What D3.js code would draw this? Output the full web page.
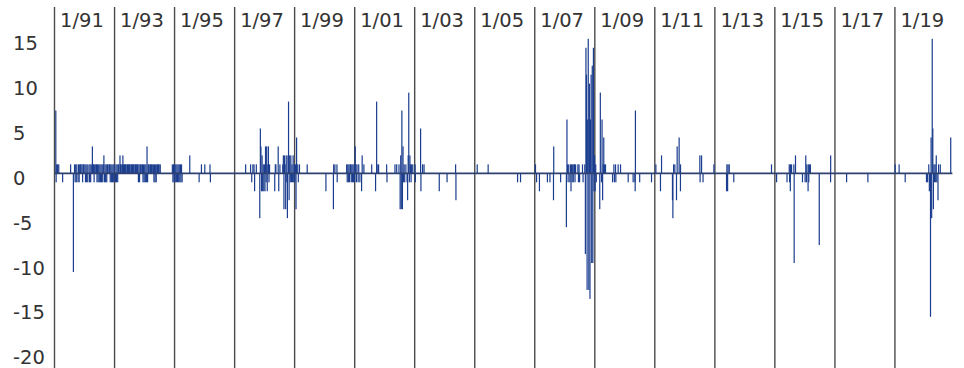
<!DOCTYPE html>
<html lang="en">
<head>
<meta charset="utf-8">
<title>Daily moves, 1991-2020</title>
<script src="https://cdn.jsdelivr.net/npm/d3@7"></script>
<style>
  body { margin: 0; background: #fff; }
  svg { display: block; font-family: "DejaVu Sans", Verdana, sans-serif; }
</style>
</head>
<body>
<svg id="chart" width="964" height="368"></svg>
<script>
// x axis labels, one every two years
const tickLabels = ["1/91", "1/93", "1/95", "1/97", "1/99", "1/01", "1/03",
  "1/05", "1/07", "1/09", "1/11", "1/13", "1/15", "1/17", "1/19"]
const yTicks = [15, 10, 5, 0, -5, -10, -15, -20]
const seriesEnd = "2020-11-30"

// isolated days
const spikeDates = [
  "1991-01-17", "1991-01-21", "1991-01-28", "1991-02-08", "1991-02-22", "1991-04-10", "1991-07-16", "1991-08-19",
  "1995-07-05", "1995-10-27", "1995-11-24", "1996-01-04", "1996-03-07", "1996-03-12", "1997-05-15",
  "1999-06-03", "2000-01-17", "2000-04-17", "2000-04-20", "2000-05-05", "2000-05-30", "2000-06-02",
  "2001-07-27", "2001-09-12", "2001-09-25", "2001-10-01", "2001-10-19", "2002-01-25", "2002-01-29", "2002-05-06", "2002-05-27",
  "2003-01-06", "2003-01-10", "2003-03-14", "2003-03-18", "2003-04-07", "2003-04-25", "2003-10-27", "2004-01-30",
  "2004-05-13", "2004-05-17", "2005-01-31", "2005-06-13", "2006-06-06", "2006-07-12",
  "2007-01-10", "2007-01-23", "2007-02-27", "2007-06-04", "2007-07-05", "2007-08-17", "2007-08-20", "2007-11-12",
  "2009-08-05", "2009-08-21", "2009-08-27", "2009-09-10", "2009-09-14", "2009-10-12", "2009-11-10",
  "2010-02-11", "2010-04-12", "2010-05-04", "2010-05-07", "2010-05-10", "2010-07-01", "2010-11-22",
  "2011-01-14", "2011-03-11", "2011-03-24", "2011-08-04", "2011-08-09", "2011-08-18", "2011-09-02", "2011-09-22",
  "2011-09-30", "2011-10-24", "2011-11-09", "2011-11-10", "2012-07-02", "2012-07-05", "2012-07-23", "2012-08-10", "2012-12-20",
  "2013-05-23", "2013-05-27", "2013-06-05", "2013-06-10", "2013-06-25", "2013-08-19", "2014-11-21",
  "2015-01-22", "2015-05-29", "2015-06-25", "2015-06-29", "2015-07-08", "2015-07-09", "2015-07-23", "2015-08-20",
  "2015-08-24", "2015-09-09", "2015-12-03", "2016-01-04", "2016-01-12", "2016-01-20", "2016-01-25", "2016-02-09",
  "2016-02-12", "2016-02-18", "2016-02-28", "2016-03-08", "2016-06-24", "2016-11-09", "2016-11-10",
  "2017-05-23", "2018-02-06", "2019-01-04", "2019-02-21", "2019-05-06", "2020-11-10"
]
const spikeValues = [
  7, -1, 1, 1, 1, -1, 1, -11,
  2, -1, 1, 1, 1, -1, 1,
  1, -2, -4, 1, 1, 1, -1,
  1, -2, 8, 1, 1, 1, -1, 1, 1,
  1, -1, 5, -2, 1, 1, -2, -1,
  1, -3, 1, 1, -1, -1,
  1, -1, -2, -1, -1, -3, 3, -1,
  -1, 1, -1, 1, -1, 1, 1,
  -1, -1, -1, -2, 7, -1, -1,
  1, -2, 2, -3, -5, 1, 1, -3,
  3, 4, -2, 1, 2, -1, 2, -1, 1,
  -2, 1, -2, 1, 1, -1, 1,
  -1, -1, 1, -1, -2, 1, 1, 1,
  -10, 2, -1, -1, 2, -1, 1, -2,
  1, -1, 1, 1, -8, -1, 2,
  -1, -1, 1, 1, -1, 4
]

// busy stretches: one value per week from the start date
const runStarts = ["1991-09-02", "1994-12-05", "1997-07-07", "2000-09-25", "2002-06-24", "2008-01-07", "2020-01-20"]
const runWeeks = [
  [1,-1,1,-1,1,0,-1,1,-1,1, 1,1,0,1,-1,1,1,0, 1,-1,1,-1,1,-1,0,1,-1,1,-1,1, 0,3, 1,1,-1,1,0,1,
   1,-1,1,-1,1,-1,1,-1,1,-1,1,-1,1,2,-1,1,-1,1,-1, 1,1,0,1, 1,-1,1,-1,1,-1,1,-1,1,0,-1, 1,-1,1,-1,
   1,1,0,2,1,1,0,1,2,1,0,1,1,1,0,1,1,0,1,1,1,0,1,1,0,1,1,1,0,1,1,0,1,1,
   1,-1,1,-1, 1,1,0,1,1, -1,1,-1,1,-1,1,-1,3,-1, 1,1,0,1,1,0,1,1,0,1, -1,1,-1,1,-1, 1,1,0,1,1,0,1],
  [1,-1,1,-1,1,-1,1,-1,1,-1,1,-1,1,-1,1,-1,1,-1],
  [0,1,0,-1,0,1,0,1,-2,0, 0,1,0,0,0,0,0,-5,5,3, -2,2,-2,1,-2,1,-2,3,-1,3, -2,1,3,-1,1,0,0,0,0,0,
   0,0,0,-2,1,1,0,0,0,3, -2,0,1,0,0,0,0,1,2,-4, 2,1,-4,2,-1,-5,2,8,-3,2, -1,2,-1,1,-1,2,-1,1,-1,1,
   -4,4,0,1,-1,0,1],
  [1,-1,1,-1,1,-1,1,1,-1,1, -1,1,-1,1,-1,3,1,-1,1,0, -1,1,0,-1,0,0,-2,2,0,0, 1],
  [1,0,-4,2,-4,7,-4,3,-1,1, -1,0,1,0,-1,-3,2,9,-1,2, 1,-1,1,0,1],
  [0,0,-6,6,1,-1,1,0,-1,1, -2,1,-1,1,-1,1,1,-1,1,0, 0,0,1,-1,1,-1,0,0,0,0,
   1,-1,0,0,1,-9,14,11,-13,6, 15,-13,10,-14,6,11,-10,12,-10,14, -2,2,-2,1,-1,0,0,0,0,0,
   -4,9,0,-1,6,-3,1,4,1,0, 1],
  [-1,0,-1,0,1,-2,-1,-16,4,-5, 15,5,-4,1,-1,1,-1,2,-1,0, -3,1,0,0,1]
]

const parse = d3.timeParse("%Y-%m-%d")
const parseTick = d3.timeParse("%m/%y")

let points = spikeDates.map((d, i) => ({date: parse(d), value: spikeValues[i]}))
runStarts.forEach((s, r) => {
  let t0 = parse(s)
  runWeeks[r].forEach((v, i) => {
    if (v !== 0) points.push({date: d3.timeWeek.offset(t0, i), value: v})
  })
})

const width = 964, height = 368
const x = d3.scaleTime()
  .domain([parse("1991-01-01"), parse("2021-01-01")])
  .range([54.5, 955])
const y = d3.scaleLinear()
  .domain([-20, 15])
  .range([352.7, 38.8])

const svg = d3.select("#chart")

// year separators + labels
let ticks = svg.append("g").attr("id", "xticks")
tickLabels.forEach(lab => {
  let xx = x(parseTick(lab))
  ticks.append("line")
    .attr("x1", xx).attr("x2", xx)
    .attr("y1", 7).attr("y2", height)
    .attr("stroke", "#4a4a4a")
    .attr("stroke-width", 1.4)
  ticks.append("text")
    .attr("x", xx + 5.5)
    .attr("y", 27.3)
    .attr("font-size", 19.5)
    .attr("fill", "#333")
    .text(lab)
})

svg.append("g").attr("id", "yticks")
  .selectAll("text")
  .data(yTicks).enter()
  .append("text")
  .attr("x", 13)
  .attr("y", d => y(d) + 11.5)
  .attr("font-size", 19.5)
  .attr("fill", "#333")
  .text(d => String(d))

svg.append("g").attr("id", "bars")
  .selectAll("rect")
  .data(points).enter()
  .append("rect")
  .attr("x", d => x(d.date) - 0.6)
  .attr("width", 1.2)
  .attr("y", d => Math.min(y(d.value), y(0)))
  .attr("height", d => Math.abs(y(d.value) - y(0)))
  .attr("fill", "#1b3d8f")

svg.append("line")
  .attr("x1", x.range()[0]).attr("x2", x(parse(seriesEnd)))
  .attr("y1", y(0)).attr("y2", y(0))
  .attr("stroke", "#2d4070")
  .attr("stroke-width", 1.6)
</script>
</body>
</html>
